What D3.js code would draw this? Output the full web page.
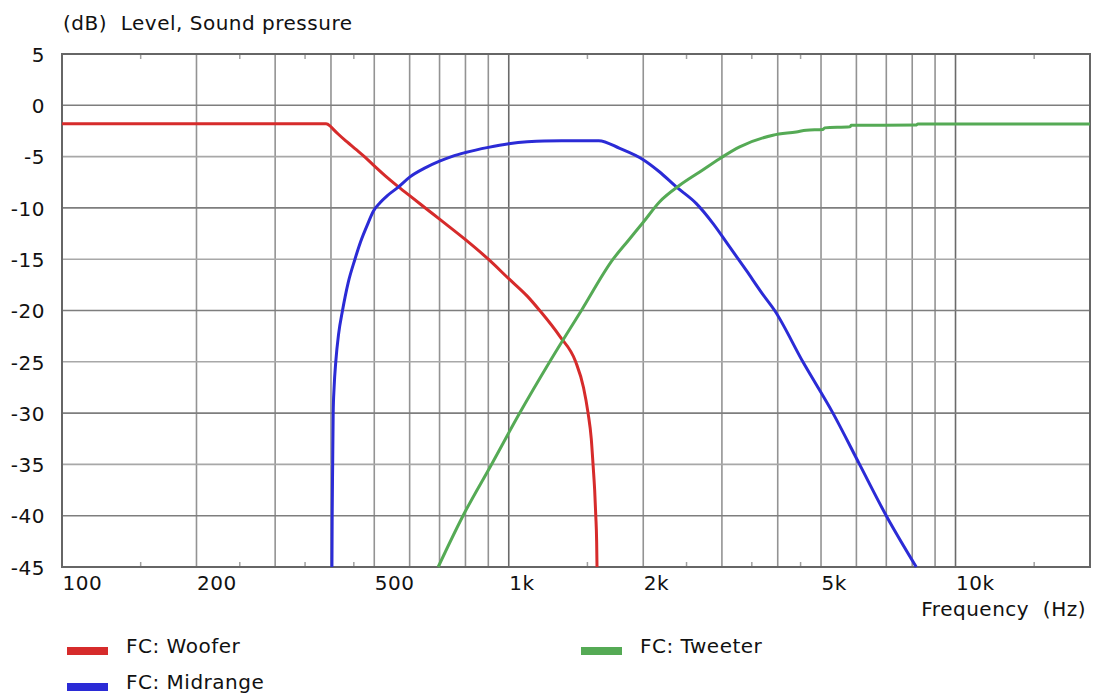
<!DOCTYPE html>
<html>
<head>
<meta charset="utf-8">
<script src="https://cdn.jsdelivr.net/npm/d3@7"></script>
<style>
  html, body { margin: 0; padding: 0; background: #fff; }
  svg text { font-family: "DejaVu Sans", Verdana, sans-serif; fill: #111; white-space: pre; letter-spacing: 0.5px; }
</style>
</head>
<body>
<svg id="chart" width="1094" height="695"></svg>
<script>
// Frequency response of the three FC drivers: [frequency (Hz), level (dB)]
const wooferData = [
  [100, -1.8], [390, -1.8], [398, -2.0], [405, -2.35], [415, -2.8], [434, -3.55],
  [455, -4.3], [478, -5.1], [500, -5.9], [530, -6.9], [561, -7.8], [600, -8.8],
  [659, -10.2], [700, -11.1], [800, -13.1], [900, -15.0], [1000, -16.9], [1100, -18.6],
  [1173, -20], [1300, -22.5], [1412, -25], [1470, -27.5], [1505, -30], [1530, -32.5],
  [1544, -35], [1557, -37.5], [1566, -40], [1573, -42.5], [1576, -45]
];
const midrangeData = [
  [402, -45], [402.5, -40], [403.5, -35], [404.6, -30], [406.5, -27.5], [410, -25],
  [416, -22.3], [424.5, -20], [437, -17.3], [452.6, -15], [466, -13.3], [482, -11.7],
  [498, -10.3], [515, -9.5], [535, -8.8], [565, -8.0], [600, -7.0], [650, -6.1],
  [700, -5.45], [750, -4.95], [800, -4.6], [900, -4.1], [1000, -3.75], [1100, -3.55],
  [1200, -3.47], [1590, -3.45], [1772, -4.2], [2000, -5.3], [2177, -6.5], [2372, -7.96],
  [2630, -9.58], [2864, -11.5], [3122, -13.8], [3402, -16.1], [3700, -18.4], [3937, -20],
  [4553, -25], [5317, -30], [6099, -35], [6998, -40], [8169, -45]
];
const tweeterData = [
  [695, -45], [790, -40], [915, -35], [1058, -30], [1235, -25], [1454, -20],
  [1712, -15], [1850, -13.2], [2000, -11.4], [2177, -9.4], [2413, -7.8], [2675, -6.5],
  [2965, -5.2], [3287, -4.05], [3902, -2.92], [4400, -2.6], [4634, -2.44], [5050, -2.35],
  [5093, -2.2], [5800, -2.1], [5845, -1.95], [8150, -1.93], [8237, -1.82], [20000, -1.82]
];

const seriesNames = ["FC: Woofer", "FC: Midrange", "FC: Tweeter"];
const seriesColors = ["#d62b2b", "#2b2bd6", "#55aa55"];

const freqLabelTicks = [100, 200, 500, 1000, 2000, 5000, 10000];
const freqLabels = ["100", "200", "500", "1k", "2k", "5k", "10k"];
const freqGridTicks = [200, 300, 400, 500, 600, 700, 800, 900,
  1000, 2000, 3000, 4000, 5000, 6000, 7000, 8000, 9000, 10000];
const freqMinorTicks = [150, 250, 350, 450, 1500, 2500, 3500, 4500, 15000];
const levelTicks = [5, 0, -5, -10, -15, -20, -25, -30, -35, -40, -45];

const yTitle = "(dB)  Level, Sound pressure";
const xTitle = "Frequency  (Hz)";

const svg = d3.select("#chart");
const plotLeft = 62, plotRight = 1090, plotTop = 54, plotBottom = 567;

const x = d3.scaleLog().domain([100, 20000]).range([plotLeft, plotRight]);
const y = d3.scaleLinear().domain([-45, 5]).range([plotBottom, plotTop]);

// Grid lines
const grid = svg.append("g");
grid.selectAll("line.v").data(freqGridTicks).join("line")
  .attr("x1", d => x(d)).attr("x2", d => x(d))
  .attr("y1", plotTop).attr("y2", plotBottom)
  .attr("stroke", d => (d === 1000 || d === 10000) ? "#6a6a6a" : "#939393")
  .attr("stroke-width", 1.6);
grid.selectAll("line.h").data(levelTicks.filter(d => d < 5 && d > -45)).join("line")
  .attr("x1", plotLeft).attr("x2", plotRight)
  .attr("y1", d => y(d)).attr("y2", d => y(d))
  .attr("stroke", d => (d % 10 === 0) ? "#7e7e7e" : "#a8a8a8")
  .attr("stroke-width", 1.6);

// Minor tick marks on top and bottom edges
grid.selectAll("line.tb").data(freqMinorTicks).join("line")
  .attr("x1", d => x(d)).attr("x2", d => x(d))
  .attr("y1", plotBottom - 5).attr("y2", plotBottom)
  .attr("stroke", "#a0a0a0").attr("stroke-width", 1.5);
grid.selectAll("line.tt").data(freqMinorTicks).join("line")
  .attr("x1", d => x(d)).attr("x2", d => x(d))
  .attr("y1", plotTop).attr("y2", plotTop + 5)
  .attr("stroke", "#a0a0a0").attr("stroke-width", 1.5);

// Frame
svg.append("rect")
  .attr("x", plotLeft).attr("y", plotTop)
  .attr("width", plotRight - plotLeft).attr("height", plotBottom - plotTop)
  .attr("fill", "none").attr("stroke", "#666").attr("stroke-width", 2);

// Axis labels via d3 axes
const xAxis = d3.axisBottom(x).tickValues(freqLabelTicks)
  .tickFormat((d, i) => freqLabels[i]).tickSize(0).tickPadding(0);
const gx = svg.append("g").attr("transform", `translate(0,${plotBottom})`).call(xAxis);
gx.select(".domain").remove();
gx.selectAll("text")
  .attr("text-anchor", "start").attr("x", 0).attr("y", 23).attr("dy", 0)
  .style("font-size", "20px").style("font-family", '"DejaVu Sans", Verdana, sans-serif').attr("fill", "#111");

const yAxis = d3.axisLeft(y).tickValues(levelTicks).tickFormat(d => String(d)).tickSize(0).tickPadding(0);
const gy = svg.append("g").attr("transform", `translate(${plotLeft},0)`).call(yAxis);
gy.select(".domain").remove();
gy.selectAll("text")
  .attr("x", -17).attr("dy", "0.36em")
  .style("font-size", "20px").style("font-family", '"DejaVu Sans", Verdana, sans-serif').attr("fill", "#111");

// Curves
const line = d3.line().x(d => x(d[0])).y(d => y(d[1])).curve(d3.curveMonotoneX);
const plot = svg.append("g");
[wooferData, midrangeData, tweeterData].forEach((data, i) => {
  plot.append("path").datum(data)
    .attr("d", line)
    .attr("fill", "none")
    .attr("stroke", seriesColors[i])
    .attr("stroke-width", 3)
    .attr("stroke-linejoin", "round");
});

// Titles
svg.append("text").attr("x", 63).attr("y", 30).style("font-size", "20px").text(yTitle);
svg.append("text").attr("x", 1086).attr("y", 616).attr("text-anchor", "end")
  .style("font-size", "20px").text(xTitle);

// Legend
const legendPos = [[67, 651], [67, 687], [581, 651]];
const legend = svg.append("g");
seriesNames.forEach((name, i) => {
  const [lx, ly] = legendPos[i];
  legend.append("rect").attr("x", lx).attr("y", ly - 4).attr("width", 41).attr("height", 8)
    .attr("fill", seriesColors[i]);
  legend.append("text").attr("x", lx + 59).attr("y", ly + 2)
    .style("font-size", "20px").text(name);
});
</script>
</body>
</html>
